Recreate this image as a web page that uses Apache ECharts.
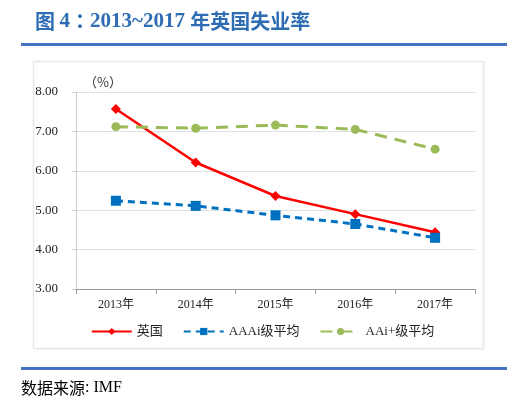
<!DOCTYPE html>
<html><head><meta charset="utf-8">
<script src="https://cdn.jsdelivr.net/npm/echarts@6/dist/echarts.min.js"></script>
<style>html,body{margin:0;padding:0;background:#fff}#c{width:525px;height:414px}</style>
</head><body><div id="c"></div>
<script>
const categories = ['2013年','2014年','2015年','2016年','2017年'];
const uk = [7.57, 6.21, 5.36, 4.90, 4.44];
const aaa = [5.24, 5.11, 4.87, 4.65, 4.30];
const aaplus = [7.12, 7.08, 7.16, 7.05, 6.55];
const yTicks = {min: 3, max: 8, interval: 1};
const seriesNames = ['英国', 'AAAi级平均', 'AAi+级平均'];

const serif = '"Liberation Serif","Times New Roman","Noto Sans CJK SC",serif';
const cjk = '"Noto Sans CJK SC",sans-serif';
const chart = echarts.init(document.getElementById('c'), null, {renderer: 'canvas'});
chart.setOption({
  animation: false,
  backgroundColor: '#fff',
  graphic: [
    {type: 'rect', z: -10, shape: {x: 33.5, y: 61.5, width: 450, height: 287},
     style: {fill: '#fff', stroke: '#e6e6e6', lineWidth: 1, shadowBlur: 3, shadowColor: 'rgba(0,0,0,0.08)'}},
    {type: 'text', left: 35, top: 11,
     style: {
       text: '{c|图 }{s|4}{k|：}{s|2013~2017 }{c|年英国失业率}',
       rich: {
         c: {fill: '#2E6DB4', fontFamily: cjk, fontWeight: 'bold', fontSize: 20},
         k: {fill: '#2E6DB4', fontFamily: '"Noto Sans CJK TC",sans-serif', fontWeight: 'bold', fontSize: 20},
         s: {fill: '#2E6DB4', fontFamily: serif, fontWeight: 'bold', fontSize: 21}
       }
     }},
    {type: 'rect', shape: {x: 21, y: 43, width: 486, height: 3}, style: {fill: '#4472C4'}},
    {type: 'rect', shape: {x: 21, y: 367, width: 486, height: 3}, style: {fill: '#4472C4'}},
    {type: 'text', left: 21, top: 380,
     style: {text: '{c|数据来源}{s|: IMF}',
       rich: {
         c: {fill: '#000', fontFamily: cjk, fontSize: 16},
         s: {fill: '#000', fontFamily: serif, fontSize: 16}
       }}},
    {type: 'text', left: 84, top: 76,
     style: {text: '（%）', fill: '#333', font: '13px "Noto Sans CJK SC",sans-serif'}}
  ],
  grid: {left: 76, right: 50, top: 92, bottom: 125},
  legend: {
    bottom: 71, left: 'center', itemWidth: 40, itemHeight: 9, itemGap: 20,
    data: seriesNames,
    textStyle: {fontFamily: serif, fontSize: 13, color: '#222'}
  },
  xAxis: {
    type: 'category', data: categories, boundaryGap: true,
    axisLine: {lineStyle: {color: '#999'}},
    axisTick: {show: true, lineStyle: {color: '#999'}},
    axisLabel: {fontFamily: serif, fontSize: 12, color: '#222', margin: 10}
  },
  yAxis: {
    type: 'value', min: yTicks.min, max: yTicks.max, interval: yTicks.interval,
    axisLine: {show: true, lineStyle: {color: '#ccc'}},
    axisTick: {show: true, lineStyle: {color: '#ccc'}, length: 4},
    splitLine: {lineStyle: {color: '#e0e0e0'}},
    axisLabel: {fontFamily: serif, fontSize: 13, color: '#222', margin: 18,
      formatter: v => v.toFixed(2)}
  },
  series: [
    {name: seriesNames[0], type: 'line', data: uk, color: '#FF0000',
     symbol: 'diamond', symbolSize: 10, lineStyle: {width: 2.5, color: '#FF0000'},
     itemStyle: {color: '#FF0000'}},
    {name: seriesNames[1], type: 'line', data: aaa, color: '#0070C0',
     symbol: 'rect', symbolSize: 10, lineStyle: {width: 3, type: [7, 5], color: '#0070C0'},
     itemStyle: {color: '#0070C0'}},
    {name: seriesNames[2], type: 'line', data: aaplus, color: '#9BBB59',
     symbol: 'circle', symbolSize: 9, lineStyle: {width: 3, type: [12, 8], color: '#9BBB59'},
     itemStyle: {color: '#9BBB59'}}
  ]
});
</script></body></html>
